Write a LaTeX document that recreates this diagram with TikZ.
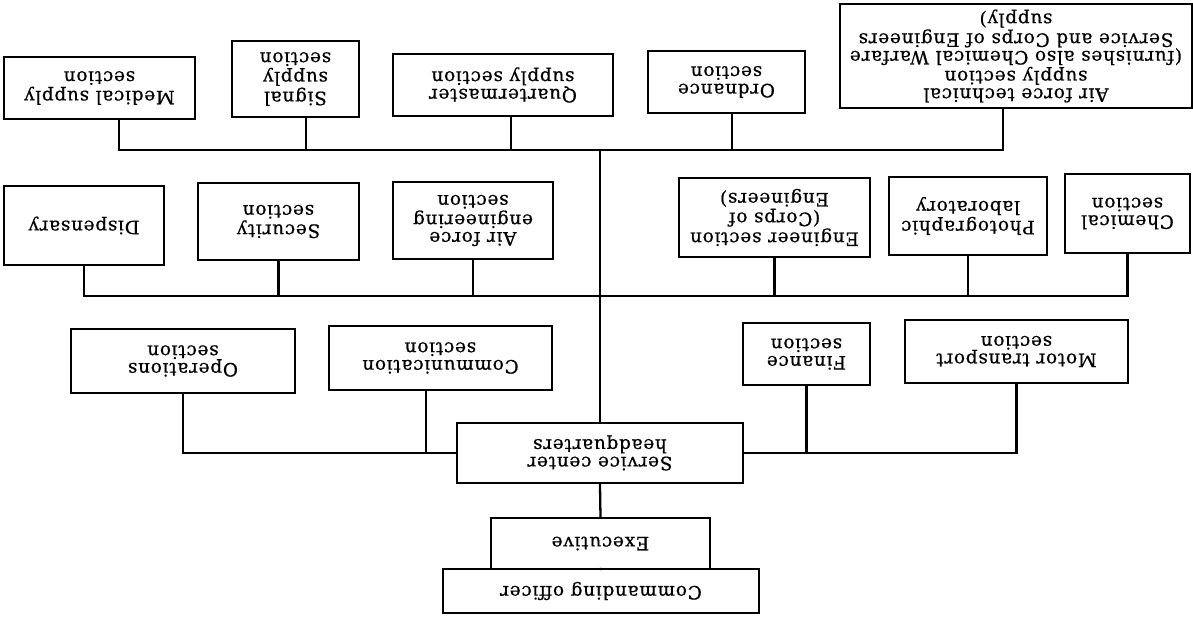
\documentclass[tikz,border=0pt]{standalone}
\usepackage{fontspec}
\newfontfamily\chartfont[LetterSpace=4, FakeBold=0.6]{DejaVu Serif}
\usepackage{tikz}
\tikzset{
	box/.style  = {draw, fill=white, rectangle, align=center, inner sep=2pt, font=\chartfont\fontsize{10.5}{10}\selectfont},
	bus/.style  = {coordinate},
}

\begin{document}
\begin{tikzpicture}[x=0.02cm, y=0.02cm, rotate=180, transform shape, line width=1.3pt]
		% the page is printed upside down: build the chart upright, then turn it
		\useasboundingbox (0,0) rectangle (1193,619);

		% Draw the command nodes
		\node[box, minimum width=6.32cm, minimum height=0.88cm] (co) at (592,591) {Commanding officer};
		\node[box, minimum width=4.38cm, minimum height=1.02cm] (exec) at (592.5,543.5) {Executive};
		\node[box, minimum width=5.72cm, minimum height=1.20cm] (hq) at (593,453) {Service center\\headquarters};

		% Draw the first row of sections
		\node[box, minimum width=4.48cm, minimum height=1.28cm] (ops) at (1010,361) {Operations\\section};
		\node[box, minimum width=4.46cm, minimum height=1.28cm] (comm) at (752.5,358) {Communication\\section};
		\node[box, minimum width=2.54cm, minimum height=1.24cm] (fin) at (386.5,354) {Finance\\section};
		\node[box, minimum width=4.46cm, minimum height=1.26cm] (motor) at (176.5,351.5) {Motor transport\\section};

		% Draw the second row of sections
		\node[box, minimum width=3.20cm, minimum height=1.58cm] (disp) at (1109,225.5) {Dispensary};
		\node[box, minimum width=3.22cm, minimum height=1.54cm] (sec) at (914.5,221.5) {Security\\section};
		\node[box, minimum width=3.20cm, minimum height=1.54cm] (afeng) at (720,220.5) {Air force\\engineering\\section};
		\node[box, minimum width=3.82cm, minimum height=1.58cm] (eng) at (418.5,217.5) {Engineer section\\(Corps of\\Engineers)};
		\node[box, minimum width=3.16cm, minimum height=1.56cm] (photo) at (225,216) {Photographic\\laboratory};
		\node[box, minimum width=2.50cm, minimum height=1.58cm] (chem) at (65.5,213.5) {Chemical\\section};

		% Draw the supply sections
		\node[box, minimum width=3.82cm, minimum height=1.24cm] (med) at (1093.5,88) {Medical supply\\section};
		\node[box, minimum width=2.54cm, minimum height=1.52cm] (signal) at (897.5,79) {Signal\\supply\\section};
		\node[box, minimum width=4.40cm, minimum height=1.24cm] (qm) at (690,85) {Quartermaster\\supply section};
		\node[box, minimum width=3.14cm, minimum height=1.24cm] (ord) at (466.5,82) {Ordnance\\section};
		\node[box, minimum width=7.04cm, minimum height=2.08cm] (aftech) at (177,56) {Air force technical\\supply section\\(furnishes also Chemical Warfare\\Service and Corps of Engineers\\supply)};

		\node[bus] (bus1) at (593,150) {};
		\node[bus] (bus2) at (593,296) {};

		% Connect everything together
		\draw (co) -- (exec);
		\draw (exec.south) -- (hq.north);
		\draw (hq.east) -| (ops.north);
		\draw ([xshift=0.29cm]comm.north) -- ([xshift=0.29cm]comm.north |- hq.east);
		\draw (hq.west) -| (motor.north);
		\draw (fin.north) -- (fin.north |- hq.west);

		\draw (hq.south) -- (bus1);
		\draw (disp.north) |- (bus2) -| (chem.north);
		\foreach \n in {sec, afeng, eng, photo}
			\draw (\n.north) -- (\n.north |- bus2);

		\draw ([xshift=-0.39cm]med.north) |- (bus1) -| ([xshift=0.26cm]aftech.north);
		\foreach \n/\s in {signal/-0.21, qm/-0.16, ord/-0.11}
			\draw ([xshift=\s cm]\n.north) -- ([xshift=\s cm]\n.north |- bus1);
	\end{tikzpicture}
\end{document}
